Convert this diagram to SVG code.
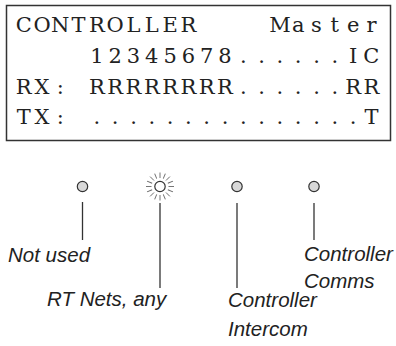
<svg xmlns="http://www.w3.org/2000/svg" width="396" height="346" viewBox="0 0 396 346">
  <style>
    .lcd { font-family: "DejaVu Serif", "Liberation Serif", serif; font-size: 21px; fill: #222; text-anchor: middle; }
    .lbl { font-family: "Liberation Sans", Arial, sans-serif; font-style: italic; font-size: 20.5px; fill: #222; }
    .led { fill: #d8d8d8; stroke: #333; stroke-width: 1.2; }
    .lead { stroke: #333; stroke-width: 1.3; fill: none; }
    .ray { stroke: #666; stroke-width: 0.9; }
  </style>
  <rect width="396" height="346" fill="#fff"/>

  <!-- LCD panel: 20-column character grid, 18.3px pitch -->
  <g id="display">
    <rect x="6.5" y="5.5" width="384" height="135" fill="#fff" stroke="#333" stroke-width="1.5"/>
    <text class="lcd" y="32" xml:space="preserve" x="23.7 42 60.3 78.6 96.9 115.2 133.5 151.8 170.1 188.4 206.7 225 243.3 261.6 279.9 298.2 316.5 334.8 353.1 371.4">CONTROLLER    Master</text>
    <text class="lcd" y="63" xml:space="preserve" x="23.7 42 60.3 78.6 96.9 115.2 133.5 151.8 170.1 188.4 206.7 225 243.3 261.6 279.9 298.2 316.5 334.8 353.1 371.4">    12345678......IC</text>
    <text class="lcd" y="94" xml:space="preserve" x="23.7 42 60.3 78.6 96.9 115.2 133.5 151.8 170.1 188.4 206.7 225 243.3 261.6 279.9 298.2 316.5 334.8 353.1 371.4">RX: RRRRRRRR......RR</text>
    <text class="lcd" y="124" xml:space="preserve" x="23.7 42 60.3 78.6 96.9 115.2 133.5 151.8 170.1 188.4 206.7 225 243.3 261.6 279.9 298.2 316.5 334.8 353.1 371.4">TX: ...............T</text>
  </g>

  <!-- LED indicators -->
  <g id="led-not-used">
    <circle class="led" cx="82.5" cy="186.5" r="5.2"/>
    <text class="lbl" x="8" y="262">Not used</text>
  </g>
  <g id="led-rt-nets">
    <circle cx="160" cy="186.5" r="5.2" fill="#fff" stroke="#333" stroke-width="1.2"/>
    <g class="ray" transform="translate(160 186.5)">
      <line x1="8.5" y1="0" x2="14" y2="0"/>
      <line x1="8.5" y1="0" x2="14" y2="0" transform="rotate(22.5)"/>
      <line x1="8.5" y1="0" x2="14" y2="0" transform="rotate(45)"/>
      <line x1="8.5" y1="0" x2="14" y2="0" transform="rotate(67.5)"/>
      <line x1="8.5" y1="0" x2="14" y2="0" transform="rotate(90)"/>
      <line x1="8.5" y1="0" x2="14" y2="0" transform="rotate(112.5)"/>
      <line x1="8.5" y1="0" x2="14" y2="0" transform="rotate(135)"/>
      <line x1="8.5" y1="0" x2="14" y2="0" transform="rotate(157.5)"/>
      <line x1="8.5" y1="0" x2="14" y2="0" transform="rotate(180)"/>
      <line x1="8.5" y1="0" x2="14" y2="0" transform="rotate(202.5)"/>
      <line x1="8.5" y1="0" x2="14" y2="0" transform="rotate(225)"/>
      <line x1="8.5" y1="0" x2="14" y2="0" transform="rotate(247.5)"/>
      <line x1="8.5" y1="0" x2="14" y2="0" transform="rotate(270)"/>
      <line x1="8.5" y1="0" x2="14" y2="0" transform="rotate(292.5)"/>
      <line x1="8.5" y1="0" x2="14" y2="0" transform="rotate(315)"/>
      <line x1="8.5" y1="0" x2="14" y2="0" transform="rotate(337.5)"/>
    </g>
    <text class="lbl" x="47" y="306">RT Nets, any</text>
  </g>
  <g id="led-intercom">
    <circle class="led" cx="237" cy="186.5" r="5.2"/>
    <text class="lbl" x="228" y="307">Controller</text>
    <text class="lbl" x="228" y="336">Intercom</text>
  </g>
  <g id="led-comms">
    <circle class="led" cx="314" cy="186.5" r="5.2"/>
    <text class="lbl" x="304" y="261">Controller</text>
    <text class="lbl" x="304" y="288">Comms</text>
  </g>

  <!-- leader lines -->
  <g id="connectors">
    <line class="lead" x1="82.5" y1="202" x2="82.5" y2="240"/>
    <line class="lead" x1="160" y1="203" x2="160" y2="288"/>
    <line class="lead" x1="237" y1="203" x2="237" y2="288"/>
    <line class="lead" x1="314" y1="203" x2="314" y2="240"/>
  </g>
</svg>
